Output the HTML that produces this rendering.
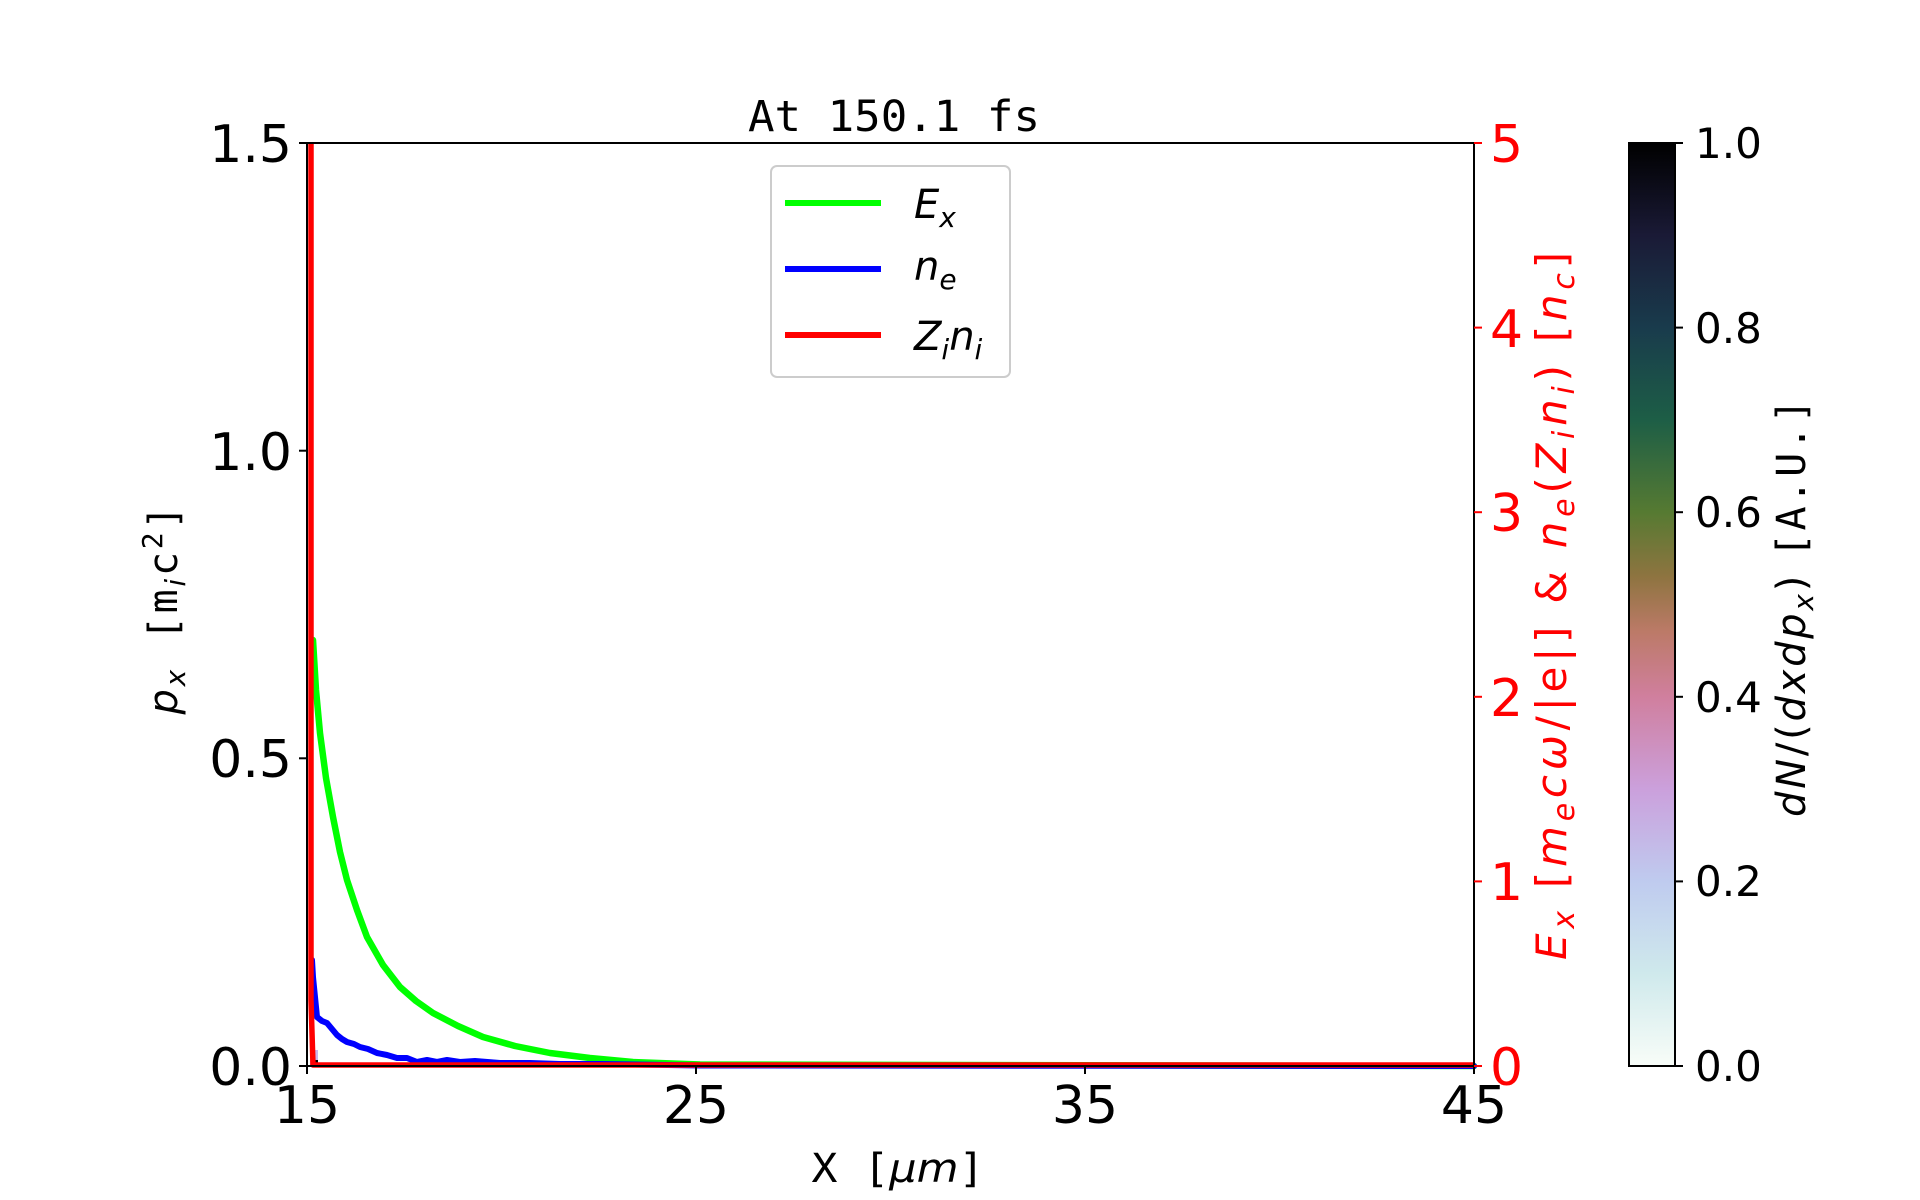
<!DOCTYPE html>
<html><head><meta charset="utf-8"><style>html,body{margin:0;padding:0;background:#fff}svg{display:block}</style></head>
<body>
<svg width="1920" height="1200" viewBox="0 0 1920 1200" xmlns="http://www.w3.org/2000/svg" font-family="'DejaVu Sans','Liberation Sans',sans-serif">
<defs>
<linearGradient id="cb" x1="0" y1="1" x2="0" y2="0">
<stop offset="0" stop-color="#f8fdf8"/>
<stop offset="0.1" stop-color="#cfe9ec"/>
<stop offset="0.2" stop-color="#bfcbef"/>
<stop offset="0.3" stop-color="#cba0dc"/>
<stop offset="0.4" stop-color="#d07f9e"/>
<stop offset="0.47" stop-color="#bc7a68"/>
<stop offset="0.53" stop-color="#8e7440"/>
<stop offset="0.6" stop-color="#567a32"/>
<stop offset="0.7" stop-color="#1d5e46"/>
<stop offset="0.8" stop-color="#193b4c"/>
<stop offset="0.9" stop-color="#1a1a36"/>
<stop offset="1" stop-color="#000000"/>
</linearGradient>
</defs>
<rect width="1920" height="1200" fill="#fff"/>

<g fill="none" stroke-linejoin="round" stroke-linecap="round">
<path d="M313,640 L316,690 L320,733 L326,778 L333,817 L340,852 L347,880 L357,910 L367,937 L383,965 L400,987 L416,1001 L433,1013 L458,1026 L483,1037 L515,1046 L550,1053 L590,1058 L633,1062 L700,1064.5 L1474,1066" stroke="#00ff00" stroke-width="6.5"/>
<path d="M312,960 L313,977 L317,1017 L322,1021 L327,1023 L332,1029 L337,1035 L342,1039 L347,1042 L354,1044 L360,1047 L368,1049 L377,1053 L387,1055 L397,1058 L407,1058 L417,1062 L427,1060 L437,1062 L447,1060 L460,1062 L475,1061 L500,1063 L530,1063 L560,1064 L600,1064 L700,1065.5 L1474,1066" stroke="#0000ff" stroke-width="6"/>
<rect x="310" y="1050" width="8" height="16" fill="#c9b5ee" stroke="none"/>
<rect x="313" y="1060" width="5" height="6" fill="#000" stroke="none"/>
<path d="M311,143 L311,1000 L313,1065 L1474,1065" stroke="#ff0000" stroke-width="5.5" stroke-linecap="butt"/>
</g>

<rect x="307" y="143" width="1167" height="923" fill="none" stroke="#000" stroke-width="2"/>

<g stroke="#000" stroke-width="2">
<line x1="299" y1="143" x2="307" y2="143"/>
<line x1="299" y1="450.7" x2="307" y2="450.7"/>
<line x1="299" y1="758.3" x2="307" y2="758.3"/>
<line x1="299" y1="1066" x2="307" y2="1066"/>
<line x1="307" y1="1066" x2="307" y2="1074"/>
<line x1="696" y1="1066" x2="696" y2="1074"/>
<line x1="1085" y1="1066" x2="1085" y2="1074"/>
<line x1="1474" y1="1066" x2="1474" y2="1074"/>
</g>
<g font-size="52" fill="#000" text-anchor="end">
<text x="292" y="162">1.5</text>
<text x="292" y="470">1.0</text>
<text x="292" y="777">0.5</text>
<text x="292" y="1085">0.0</text>
</g>
<g font-size="52" fill="#000" text-anchor="middle">
<text x="307" y="1123">15</text>
<text x="696" y="1123">25</text>
<text x="1085" y="1123">35</text>
<text x="1474" y="1123">45</text>
</g>

<g stroke="#ff0000" stroke-width="2">
<line x1="1474" y1="143" x2="1482" y2="143"/>
<line x1="1474" y1="327.6" x2="1482" y2="327.6"/>
<line x1="1474" y1="512.2" x2="1482" y2="512.2"/>
<line x1="1474" y1="696.8" x2="1482" y2="696.8"/>
<line x1="1474" y1="881.4" x2="1482" y2="881.4"/>
<line x1="1474" y1="1066" x2="1482" y2="1066"/>
</g>
<g font-size="52" fill="#ff0000" text-anchor="start">
<text x="1490" y="162">5</text>
<text x="1490" y="347">4</text>
<text x="1490" y="531">3</text>
<text x="1490" y="716">2</text>
<text x="1490" y="900">1</text>
<text x="1490" y="1085">0</text>
</g>

<text x="894" y="131" font-family="'DejaVu Sans Mono','Liberation Mono',monospace" font-size="43" text-anchor="middle" textLength="292" lengthAdjust="spacingAndGlyphs">At 150.1 fs</text>

<text x="898" y="1182" font-size="40" text-anchor="middle" textLength="173" lengthAdjust="spacingAndGlyphs"><tspan font-family="'DejaVu Sans Mono','Liberation Mono',monospace">X [</tspan><tspan font-style="italic">μm</tspan><tspan font-family="'DejaVu Sans Mono','Liberation Mono',monospace">]</tspan></text>

<text transform="translate(177,610) rotate(-90)" font-size="40" text-anchor="middle" textLength="209" lengthAdjust="spacing"><tspan font-style="italic">p</tspan><tspan font-style="italic" font-size="28" dy="8">x</tspan><tspan dy="-8" font-family="'DejaVu Sans Mono','Liberation Mono',monospace">  [m</tspan><tspan font-style="italic" font-size="28" dy="8">i</tspan><tspan dy="-8" font-family="'DejaVu Sans Mono','Liberation Mono',monospace">c</tspan><tspan font-size="28" dy="-15" font-family="'DejaVu Sans Mono','Liberation Mono',monospace">2</tspan><tspan dy="15" font-family="'DejaVu Sans Mono','Liberation Mono',monospace">]</tspan></text>

<text transform="translate(1566,606) rotate(-90)" font-size="42" fill="#ff0000" text-anchor="middle" textLength="708" lengthAdjust="spacing"><tspan font-style="italic">E</tspan><tspan font-style="italic" font-size="30" dy="8">x</tspan><tspan dy="-8"> [</tspan><tspan font-style="italic">m</tspan><tspan font-style="italic" font-size="30" dy="8">e</tspan><tspan font-style="italic" dy="-8">cω</tspan><tspan>/|e|] &amp; </tspan><tspan font-style="italic">n</tspan><tspan font-style="italic" font-size="30" dy="8">e</tspan><tspan dy="-8">(</tspan><tspan font-style="italic">Z</tspan><tspan font-style="italic" font-size="30" dy="8">i</tspan><tspan font-style="italic" dy="-8">n</tspan><tspan font-style="italic" font-size="30" dy="8">i</tspan><tspan dy="-8">) [</tspan><tspan font-style="italic">n</tspan><tspan font-style="italic" font-size="30" dy="8">c</tspan><tspan dy="-8">]</tspan></text>

<rect x="771" y="166" width="239" height="211" rx="6" fill="#fff" fill-opacity="0.8" stroke="#cccccc" stroke-width="2"/>
<line x1="785" y1="203" x2="881" y2="203" stroke="#00ff00" stroke-width="6"/>
<line x1="785" y1="269" x2="881" y2="269" stroke="#0000ff" stroke-width="6"/>
<line x1="785" y1="335" x2="881" y2="335" stroke="#ff0000" stroke-width="6"/>
<g font-size="40" font-style="italic" fill="#000">
<text x="914" y="218">E<tspan font-size="28" dy="9">x</tspan></text>
<text x="914" y="280">n<tspan font-size="28" dy="9">e</tspan></text>
<text x="914" y="350">Z<tspan font-size="28" dy="9">i</tspan><tspan dy="-9">n</tspan><tspan font-size="28" dy="9">i</tspan></text>
</g>

<rect x="1629" y="143" width="46" height="923" fill="url(#cb)" stroke="#000" stroke-width="2"/>
<g stroke="#000" stroke-width="2">
<line x1="1675" y1="143" x2="1683" y2="143"/>
<line x1="1675" y1="327.6" x2="1683" y2="327.6"/>
<line x1="1675" y1="512.2" x2="1683" y2="512.2"/>
<line x1="1675" y1="696.8" x2="1683" y2="696.8"/>
<line x1="1675" y1="881.4" x2="1683" y2="881.4"/>
<line x1="1675" y1="1066" x2="1683" y2="1066"/>
</g>
<g font-size="42" fill="#000">
<text x="1695" y="158">1.0</text>
<text x="1695" y="343">0.8</text>
<text x="1695" y="527">0.6</text>
<text x="1695" y="712">0.4</text>
<text x="1695" y="896">0.2</text>
<text x="1695" y="1081">0.0</text>
</g>
<text transform="translate(1805,608) rotate(-90)" font-size="40" text-anchor="middle" textLength="418" lengthAdjust="spacing"><tspan font-style="italic">dN</tspan><tspan>/(</tspan><tspan font-style="italic">dxdp</tspan><tspan font-style="italic" font-size="28" dy="8">x</tspan><tspan dy="-8">) </tspan><tspan font-family="'DejaVu Sans Mono','Liberation Mono',monospace"> [A.U.]</tspan></text>
</svg>
</body></html>
